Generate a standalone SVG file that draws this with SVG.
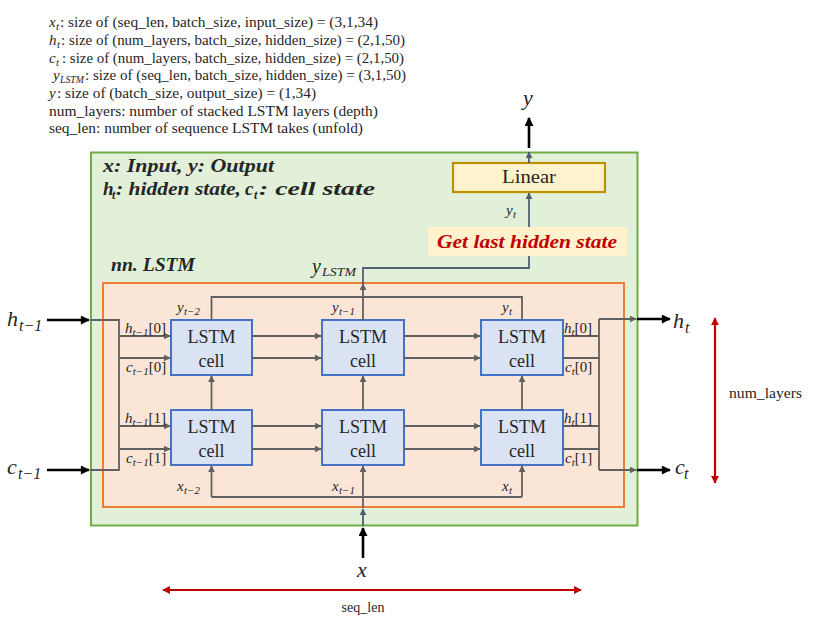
<svg xmlns="http://www.w3.org/2000/svg" width="813" height="631" viewBox="0 0 813 631">
<style>
text{font-family:"Liberation Serif","DejaVu Serif",serif;fill:#262626}
.i{font-style:italic}
.bi{font-style:italic;font-weight:bold}
.top{font-size:15px}
.sub{font-size:11px}
.lbl{font-size:15px}
.big{font-size:22px;font-style:italic}
.bsub{font-size:16px;font-style:italic}
.cellr{fill:#DAE3F3;stroke:#4472C4;stroke-width:2}
.ct{font-size:18px;text-anchor:middle}
.g{fill:none;stroke:#606060;stroke-width:1.8}
.s{fill:none;stroke:#4F5F70;stroke-width:1.8}
.k{fill:none;stroke:#000;stroke-width:2.6}
.r{fill:none;stroke:#C00000;stroke-width:2.2}
</style>
<defs>
<marker id="ag" viewBox="0 0 10 10" refX="9" refY="5" markerUnits="userSpaceOnUse" markerWidth="7" markerHeight="7" orient="auto"><path d="M0,0 L10,5 L0,10 z" fill="#606060"/></marker>
<marker id="as" viewBox="0 0 10 10" refX="9" refY="5" markerUnits="userSpaceOnUse" markerWidth="7" markerHeight="7" orient="auto"><path d="M0,0 L10,5 L0,10 z" fill="#4F5F70"/></marker>
<marker id="ak" viewBox="0 0 10 10" refX="9" refY="5" markerUnits="userSpaceOnUse" markerWidth="10" markerHeight="9" orient="auto"><path d="M0,0 L10,5 L0,10 z" fill="#000"/></marker>
<marker id="ar" viewBox="0 0 10 10" refX="9" refY="5" markerUnits="userSpaceOnUse" markerWidth="8" markerHeight="8" orient="auto-start-reverse"><path d="M0,0 L10,5 L0,10 z" fill="#C00000"/></marker>
</defs>
<rect width="813" height="631" fill="#fff"/>

<g id="legend">
<text class="top i" x="49" y="27">x</text><text class="sub i" x="56" y="30">t</text>
<text class="top" x="60" y="27" textLength="318" lengthAdjust="spacingAndGlyphs">: size of (seq_len, batch_size, input_size) = (3,1,34)</text>
<text class="top i" x="49" y="45">h</text><text class="sub i" x="57" y="48">t</text>
<text class="top" x="61" y="45" textLength="344" lengthAdjust="spacingAndGlyphs">: size of (num_layers, batch_size, hidden_size) = (2,1,50)</text>
<text class="top i" x="49" y="62.5">c</text><text class="sub i" x="56" y="65.5">t</text>
<text class="top" x="62" y="62.5" textLength="342" lengthAdjust="spacingAndGlyphs">: size of (num_layers, batch_size, hidden_size) = (2,1,50)</text>
<text class="top i" x="53" y="80">y</text><text class="sub i" x="60" y="83" textLength="24" lengthAdjust="spacingAndGlyphs">LSTM</text>
<text class="top" x="85" y="80" textLength="321" lengthAdjust="spacingAndGlyphs">: size of (seq_len, batch_size, hidden_size) = (3,1,50)</text>
<text class="top i" x="49" y="98">y</text>
<text class="top" x="57" y="98" textLength="259" lengthAdjust="spacingAndGlyphs">: size of (batch_size, output_size) = (1,34)</text>
<text class="top" x="49" y="115.5" textLength="329" lengthAdjust="spacingAndGlyphs">num_layers: number of stacked LSTM layers (depth)</text>
<text class="top" x="49" y="133" textLength="314" lengthAdjust="spacingAndGlyphs">seq_len: number of sequence LSTM takes (unfold)</text>
</g>

<g id="model">
<rect x="91" y="152.5" width="546.5" height="373" fill="#E2F0D9" stroke="#70AD47" stroke-width="2"/>
<text class="bi" x="103" y="172" font-size="19" textLength="171" lengthAdjust="spacingAndGlyphs">x: Input, y: Output</text>
<text class="bi" x="103" y="195" font-size="19">h</text><text class="bi" x="112" y="199" font-size="12">t</text>
<text class="bi" x="116" y="195" font-size="19" textLength="125" lengthAdjust="spacingAndGlyphs">: hidden state,</text>
<text class="bi" x="245" y="195" font-size="19">c</text><text class="bi" x="254" y="199" font-size="12">t</text>
<text class="bi" x="259" y="195" font-size="19" textLength="116" lengthAdjust="spacingAndGlyphs">: cell state</text>
</g>

<g id="nn-lstm">
<rect x="103" y="283" width="521" height="224" fill="#FBE5D6" stroke="#ED7D31" stroke-width="2"/>
<text class="bi" x="111" y="271" font-size="18" textLength="84" lengthAdjust="spacingAndGlyphs">nn. LSTM</text>
</g>

<g id="linear">
<rect x="453" y="163" width="152" height="29" fill="#FFF2CC" stroke="#BF9000" stroke-width="2.2"/>
<text x="529" y="183" font-size="19" text-anchor="middle" textLength="54" lengthAdjust="spacingAndGlyphs">Linear</text>
</g>

<g id="get-last">
<rect x="428" y="227" width="199" height="29" fill="#FFF2CC"/>
<text class="bi" x="437" y="248" font-size="18" style="fill:#C00000" textLength="180" lengthAdjust="spacingAndGlyphs">Get last hidden state</text>
</g>

<g id="cell-l0-t0"><rect class="cellr" x="171" y="320" width="81" height="55"/><text class="ct" x="211.5" y="343">LSTM</text><text class="ct" x="211.5" y="367">cell</text></g>
<g id="cell-l0-t1"><rect class="cellr" x="322" y="320" width="82" height="55"/><text class="ct" x="363" y="343">LSTM</text><text class="ct" x="363" y="367">cell</text></g>
<g id="cell-l0-t2"><rect class="cellr" x="481" y="320" width="82" height="55"/><text class="ct" x="522" y="343">LSTM</text><text class="ct" x="522" y="367">cell</text></g>
<g id="cell-l1-t0"><rect class="cellr" x="171" y="410" width="81" height="55"/><text class="ct" x="211.5" y="433">LSTM</text><text class="ct" x="211.5" y="457">cell</text></g>
<g id="cell-l1-t1"><rect class="cellr" x="322" y="410" width="82" height="55"/><text class="ct" x="363" y="433">LSTM</text><text class="ct" x="363" y="457">cell</text></g>
<g id="cell-l1-t2"><rect class="cellr" x="481" y="410" width="82" height="55"/><text class="ct" x="522" y="433">LSTM</text><text class="ct" x="522" y="457">cell</text></g>

<g id="connectors">
<path class="k" d="M47,320 H89" marker-end="url(#ak)"/>
<path class="k" d="M47,470 H89" marker-end="url(#ak)"/>
<path class="g" d="M90,320 H119 V470 H90"/>
<path class="g" d="M119,336 H170" marker-end="url(#ag)"/>
<path class="g" d="M119,358 H170" marker-end="url(#ag)"/>
<path class="g" d="M119,426 H170" marker-end="url(#ag)"/>
<path class="g" d="M119,449 H170" marker-end="url(#ag)"/>
<path class="g" d="M252,336 H321" marker-end="url(#ag)"/>
<path class="g" d="M252,358 H321" marker-end="url(#ag)"/>
<path class="g" d="M252,426 H321" marker-end="url(#ag)"/>
<path class="g" d="M252,449 H321" marker-end="url(#ag)"/>
<path class="g" d="M404,336 H480" marker-end="url(#ag)"/>
<path class="g" d="M404,358 H480" marker-end="url(#ag)"/>
<path class="g" d="M404,426 H480" marker-end="url(#ag)"/>
<path class="g" d="M404,449 H480" marker-end="url(#ag)"/>
<path class="g" d="M563,336 H599 M563,358 H599 M563,426 H599 M563,449 H599 M599,319 V470"/>
<path class="g" d="M599,319 H636" marker-end="url(#ag)"/>
<path class="g" d="M599,470 H636" marker-end="url(#ag)"/>
<path class="k" d="M637,319 H670" marker-end="url(#ak)"/>
<path class="k" d="M637,470 H670" marker-end="url(#ak)"/>
<path class="g" d="M211.5,410 V376" marker-end="url(#ag)"/>
<path class="g" d="M363,410 V376" marker-end="url(#ag)"/>
<path class="g" d="M522,410 V376" marker-end="url(#ag)"/>
<path class="g" d="M211.5,320 V297 H522 V320"/>
<path class="g" d="M363,320 V284" marker-end="url(#ag)"/>
<path class="s" d="M363,284 V268 H529 V256"/>
<path class="s" d="M529,227 V193" marker-end="url(#as)"/>
<path class="s" d="M529,163 V152" marker-end="url(#as)"/>
<path class="k" d="M529,148 V118" marker-end="url(#ak)"/>
<path class="k" d="M363,558 V528" marker-end="url(#ak)"/>
<path class="s" d="M363,526 V509" marker-end="url(#as)"/>
<path class="g" d="M363,508 V466" marker-end="url(#ag)"/>
<path class="g" d="M211.5,497 H522"/>
<path class="g" d="M211.5,497 V466" marker-end="url(#ag)"/>
<path class="g" d="M522,497 V466" marker-end="url(#ag)"/>
<path class="r" d="M163,590 H581" marker-start="url(#ar)" marker-end="url(#ar)"/>
<path class="r" d="M715,318 V483" marker-start="url(#ar)" marker-end="url(#ar)"/>
</g>

<g id="labels">
<text class="big" x="7" y="326">h</text><text class="bsub" x="19" y="331">t−1</text>
<text class="big" x="7" y="474">c</text><text class="bsub" x="18" y="479">t−1</text>
<text class="big" x="673" y="328">h</text><text class="bsub" x="685" y="333">t</text>
<text class="big" x="675" y="474">c</text><text class="bsub" x="684" y="479">t</text>
<text class="big" x="523" y="105">y</text>
<text class="big" x="357" y="577">x</text>
<text class="i" x="312" y="273" font-size="20">y</text><text class="i" x="322" y="276" font-size="13" textLength="34" lengthAdjust="spacingAndGlyphs">LSTM</text>
<text class="lbl i" x="506" y="215" font-size="14">y</text><text class="sub i" x="513" y="218">t</text>

<text class="lbl i" x="177" y="312">y</text><text class="sub i" x="184" y="315">t−2</text>
<text class="lbl i" x="332" y="312">y</text><text class="sub i" x="339" y="315">t−1</text>
<text class="lbl i" x="502" y="312">y</text><text class="sub i" x="509" y="315">t</text>

<text class="lbl i" x="177" y="491">x</text><text class="sub i" x="184" y="494">t−2</text>
<text class="lbl i" x="332" y="491">x</text><text class="sub i" x="339" y="494">t−1</text>
<text class="lbl i" x="502" y="491">x</text><text class="sub i" x="509" y="494">t</text>

<text class="lbl" x="125" y="333"><tspan class="i">h</tspan><tspan class="sub i" dy="3">t−1</tspan><tspan dy="-3">[0]</tspan></text>
<text class="lbl" x="126" y="372"><tspan class="i">c</tspan><tspan class="sub i" dy="3">t−1</tspan><tspan dy="-3">[0]</tspan></text>
<text class="lbl" x="125" y="423"><tspan class="i">h</tspan><tspan class="sub i" dy="3">t−1</tspan><tspan dy="-3">[1]</tspan></text>
<text class="lbl" x="126" y="463"><tspan class="i">c</tspan><tspan class="sub i" dy="3">t−1</tspan><tspan dy="-3">[1]</tspan></text>

<text class="lbl" x="564" y="333"><tspan class="i">h</tspan><tspan class="sub i" dy="3">t</tspan><tspan dy="-3">[0]</tspan></text>
<text class="lbl" x="565" y="372"><tspan class="i">c</tspan><tspan class="sub i" dy="3">t</tspan><tspan dy="-3">[0]</tspan></text>
<text class="lbl" x="564" y="423"><tspan class="i">h</tspan><tspan class="sub i" dy="3">t</tspan><tspan dy="-3">[1]</tspan></text>
<text class="lbl" x="565" y="463"><tspan class="i">c</tspan><tspan class="sub i" dy="3">t</tspan><tspan dy="-3">[1]</tspan></text>

<text x="729" y="398" font-size="14" fill="#404040" textLength="73" lengthAdjust="spacingAndGlyphs">num_layers</text>
<text x="363" y="612" font-size="14" text-anchor="middle" fill="#404040">seq_len</text>
</g>
</svg>
